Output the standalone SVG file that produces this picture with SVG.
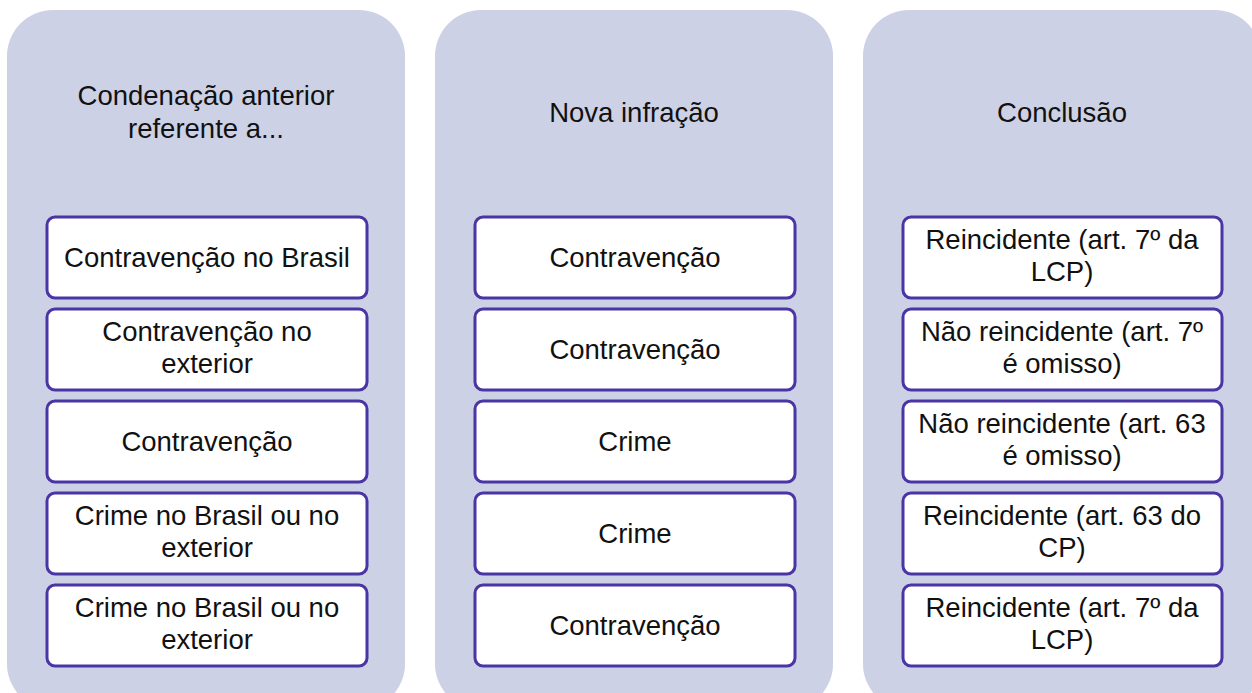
<svg xmlns="http://www.w3.org/2000/svg" width="1252" height="693" viewBox="0 0 1252 693">
<style>
.panel{fill:#CDD1E6}
.box{fill:#FFFFFF;stroke:#4A35A5;stroke-width:3}
text{font-family:"Liberation Sans",Arial,sans-serif;font-size:27.5px;fill:#111111;text-anchor:middle}
</style>
<rect width="1252" height="693" fill="#FFFFFF"/>
<g id="col1">
<rect class="panel" x="7" y="10" width="398" height="700" rx="46"/>
<text x="206" y="105">Condenação anterior</text>
<text x="206" y="138">referente a...</text>
</g>
<g id="col2">
<rect class="panel" x="435" y="10" width="398" height="700" rx="46"/>
<text x="634" y="122">Nova infração</text>
</g>
<g id="col3">
<rect class="panel" x="863" y="10" width="398" height="700" rx="46"/>
<text x="1062" y="122">Conclusão</text>
</g>
<g id="connectors"></g>
<g id="a1"><rect class="box" x="47" y="217" width="320" height="81" rx="8"/><text x="207" y="267">Contravenção no Brasil</text></g>
<g id="a2"><rect class="box" x="47" y="309" width="320" height="81" rx="8"/><text x="207" y="341">Contravenção no</text><text x="207" y="373">exterior</text></g>
<g id="a3"><rect class="box" x="47" y="401" width="320" height="81" rx="8"/><text x="207" y="451">Contravenção</text></g>
<g id="a4"><rect class="box" x="47" y="493" width="320" height="81" rx="8"/><text x="207" y="525">Crime no Brasil ou no</text><text x="207" y="557">exterior</text></g>
<g id="a5"><rect class="box" x="47" y="585" width="320" height="81" rx="8"/><text x="207" y="617">Crime no Brasil ou no</text><text x="207" y="649">exterior</text></g>
<g id="b1"><rect class="box" x="475" y="217" width="320" height="81" rx="8"/><text x="635" y="267">Contravenção</text></g>
<g id="b2"><rect class="box" x="475" y="309" width="320" height="81" rx="8"/><text x="635" y="359">Contravenção</text></g>
<g id="b3"><rect class="box" x="475" y="401" width="320" height="81" rx="8"/><text x="635" y="451">Crime</text></g>
<g id="b4"><rect class="box" x="475" y="493" width="320" height="81" rx="8"/><text x="635" y="543">Crime</text></g>
<g id="b5"><rect class="box" x="475" y="585" width="320" height="81" rx="8"/><text x="635" y="635">Contravenção</text></g>
<g id="c1"><rect class="box" x="903" y="217" width="319" height="81" rx="8"/><text x="1062" y="249">Reincidente (art. 7º da</text><text x="1062" y="281">LCP)</text></g>
<g id="c2"><rect class="box" x="903" y="309" width="319" height="81" rx="8"/><text x="1062" y="341">Não reincidente (art. 7º</text><text x="1062" y="373">é omisso)</text></g>
<g id="c3"><rect class="box" x="903" y="401" width="319" height="81" rx="8"/><text x="1062" y="433">Não reincidente (art. 63</text><text x="1062" y="465">é omisso)</text></g>
<g id="c4"><rect class="box" x="903" y="493" width="319" height="81" rx="8"/><text x="1062" y="525">Reincidente (art. 63 do</text><text x="1062" y="557">CP)</text></g>
<g id="c5"><rect class="box" x="903" y="585" width="319" height="81" rx="8"/><text x="1062" y="617">Reincidente (art. 7º da</text><text x="1062" y="649">LCP)</text></g>
</svg>
